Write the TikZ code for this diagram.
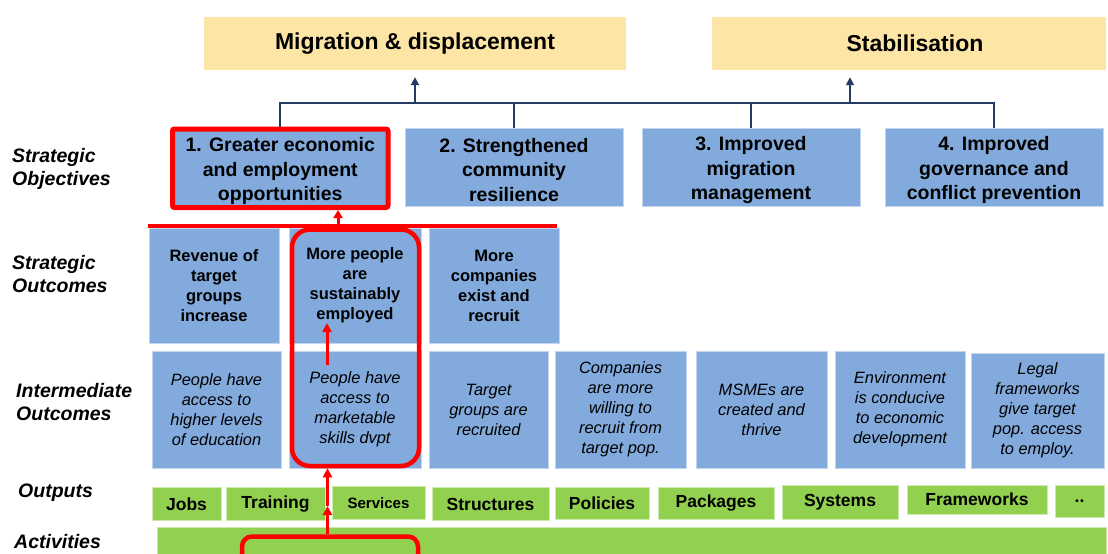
\documentclass[tikz,border=0pt]{standalone}
\usepackage{fontspec}
\setmainfont{Liberation Sans}
\usetikzlibrary{arrows.meta}
\definecolor{goalfill}{RGB}{253,229,165}
\definecolor{boxblue}{RGB}{130,170,220}
\definecolor{boxedge}{RGB}{196,214,238}
\definecolor{outgreen}{RGB}{146,208,80}
\definecolor{greenedge}{RGB}{205,234,175}
\definecolor{navyline}{RGB}{36,60,100}
\definecolor{hlred}{RGB}{255,0,0}

\begin{document}
\begin{tikzpicture}[x=1pt,y=-1pt,
  goal/.style={fill=goalfill, inner sep=0pt, minimum height=53pt,
    font=\bfseries\fontsize{23}{26}\selectfont},
  objbox/.style={fill=boxblue, draw=boxedge, line width=0.8pt, inner sep=0pt,
    minimum width=218pt, minimum height=78pt},
  objtext/.style={inner sep=0pt, align=center,
    font=\bfseries\fontsize{19.5}{24.5}\selectfont},
  sobox/.style={fill=boxblue, draw=boxedge, line width=0.8pt, inner sep=0pt,
    minimum height=115pt, align=center, font=\bfseries\fontsize{16.5}{20}\selectfont},
  iobox/.style={fill=boxblue, draw=boxedge, line width=0.8pt, inner sep=0pt,
    minimum height=117pt, align=center, font=\itshape\fontsize{16.4}{20}\selectfont},
  outbox/.style={fill=outgreen, draw=greenedge, line width=0.8pt, inner sep=0pt,
    minimum height=33pt, font=\bfseries\fontsize{17.5}{20}\selectfont},
  rowlabel/.style={anchor=west, align=left, inner sep=0pt,
    font=\bfseries\itshape\fontsize{19.5}{23}\selectfont},
  tree/.style={draw=navyline, line width=1.8pt},
  treearrow/.style={tree, -{Triangle[length=8pt,width=8pt]}},
  focus/.style={draw=hlred, line width=4.5pt, inner sep=0pt},
  focusarrow/.style={draw=hlred, line width=3pt, -{Triangle[length=9pt,width=9pt]}},
]
\fill[white] (0,0) rectangle (1108,554);
\useasboundingbox (0,0) rectangle (1108,554);

% row labels
\node[rowlabel] (lobj) at (12,169) {Strategic\\Objectives};
\node[rowlabel] (lso)  at (12,274.5) {Strategic\\Outcomes};
\node[rowlabel] (lio)  at (16,402.5) {Intermediate\\Outcomes};
\node[rowlabel] (lout) at (18,493) {Outputs};
\node[rowlabel] (lact) at (14,542) {Activities};

% overall goals
\node[goal, minimum width=422pt] (mig)  at (415,43.5) {Migration \& displacement};
\node[goal, minimum width=394pt] (stab) at (909,43.5) {\hspace*{12pt}Stabilisation};

% strategic objectives (box, then its text set a little low)
\node[objbox, draw=hlred, line width=5pt, rounded corners=2pt,
      minimum width=215.5pt, minimum height=78.5pt] (o1) at (280.25,168.25) {};
\node[objbox] (o2) at (514,167) {};
\node[objbox] (o3) at (751,167) {};
\node[objbox] (o4) at (994,167) {};
\node[objtext] (o1t) at ([yshift=-3pt]o1.center) {1. Greater economic\\and employment\\opportunities};
\node[objtext] (o2t) at ([yshift=-3pt]o2.center) {2. Strengthened\\community\\resilience};
\node[objtext] (o3t) at ([yshift=-3pt]o3.center) {3. Improved\\migration\\management};
\node[objtext] (o4t) at ([yshift=-3pt]o4.center) {4. Improved\\governance and\\conflict prevention};

% tree joining the objectives to the goals
\coordinate (bus) at (0,103);
\draw[tree] (o1.north) -- (o1.north |- bus) -- (o4.north |- bus) -- (o4.north);
\draw[tree] (o2.north) -- (o2.north |- bus);
\draw[tree] (o3.north) -- (o3.north |- bus);
\coordinate (migin) at ([yshift=-7pt]mig.south);
\draw[treearrow] (migin |- bus) -- (migin);
\coordinate (stabin) at ([xshift=-59pt,yshift=-7pt]stab.south);
\draw[treearrow] (stabin |- bus) -- (stabin);

% strategic outcomes
\node[sobox, minimum width=130pt] (s1) at (214,285.5) {Revenue of\\target\\groups\\increase};
\node[sobox, minimum width=132pt] (s2) at (355,285.5) {More people\\are\\sustainably\\employed};
\node[sobox, minimum width=130pt] (s3) at (494,285.5) {More\\companies\\exist and\\recruit};

% intermediate outcomes
\node[iobox, minimum width=129pt] (i1) at (216.5,409.5) {People have\\access to\\higher levels\\of education};
\node[iobox, minimum width=132pt] (i2) at (355,409.5) {People have\\access to\\marketable\\skills dvpt};
\node[iobox, minimum width=119pt] (i3) at (488.5,409.5) {Target\\groups are\\recruited};
\node[iobox, minimum width=131pt] (i4) at (620.5,409.5) {Companies\\are more\\willing to\\recruit from\\target pop.};
\node[iobox, minimum width=131pt] (i5) at (761.5,409.5) {MSMEs are\\created and\\thrive};
\node[iobox, minimum width=130pt] (i6) at (900,409.5) {Environment\\is conducive\\to economic\\development};
\node[iobox, minimum width=133pt, minimum height=115pt] (i7) at (1037.5,410.5) {Legal\\frameworks\\give target\\pop. access\\to employ.};

% outputs
\node[outbox, minimum width=69pt]  (p1) at (186.5,504) {Jobs};
\node[outbox, minimum width=99pt]  (p2) at (275.5,504) {Training};
\node[outbox, minimum width=93pt, font=\bfseries\fontsize{15}{18}\selectfont] (p3) at (378.5,503) {Services};
\node[outbox, minimum width=117pt] (p4) at (490.5,504) {Structures};
\node[outbox, minimum width=94pt, minimum height=32pt]  (p5) at (602,503) {Policies};
\node[outbox, minimum width=116pt, minimum height=32pt] (p6) at (716,503) {Packages};
\node[outbox, minimum width=116pt, minimum height=34pt] (p7) at (840,502) {Systems};
\node[outbox, minimum width=140pt, minimum height=29pt] (p8) at (977,499.5) {Frameworks};
\node[outbox, minimum width=49pt, minimum height=32pt]  (p9) at (1079.5,501) {..};

% activities
\node[fill=outgreen, draw=greenedge, line width=0.8pt, inner sep=0pt,
      minimum width=949pt, minimum height=28pt] (act) at (631.5,541) {};

% highlighted pathway
\coordinate (barL) at (148,226);
\coordinate (barR) at (557,226);
\draw[focus] (barL) -- (barR);
\coordinate (up1) at (338,226);
\draw[focusarrow, -{Triangle[length=8pt,width=9pt]}] (up1) -- (up1 |- o1.south);

\node[focus, rounded corners=18pt, minimum width=127pt, minimum height=236.5pt] (f1) at (355.5,347.75) {};
\node[focus, rounded corners=10pt, minimum width=176pt, minimum height=50pt] (f2) at (330,561.5) {};

\coordinate (inner) at (327,365);
\coordinate (innertip) at (327,323);
\draw[focusarrow] (inner) -- (innertip);

\coordinate (mid) at (327.5,506);
\draw[focusarrow] (mid |- f2.north) -- (mid);
\draw[focusarrow] (mid) -- (mid |- f1.south);
\end{tikzpicture}
\end{document}
